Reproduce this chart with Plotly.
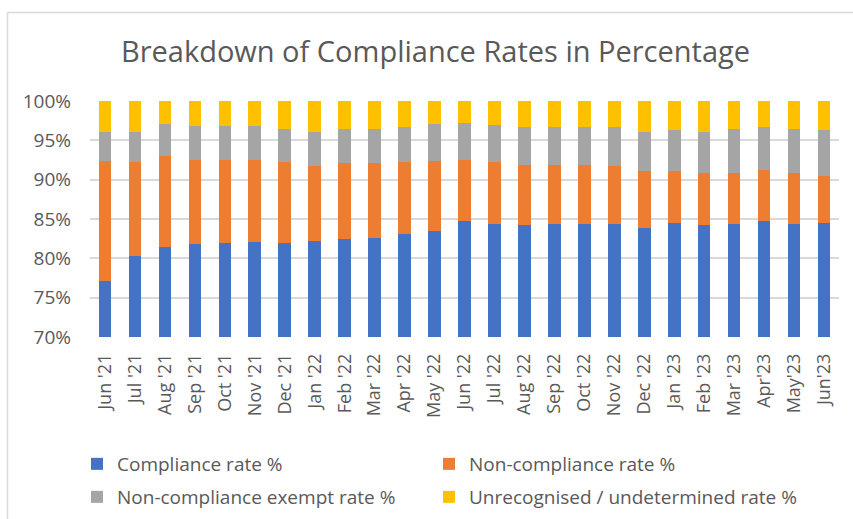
import plotly.graph_objects as go

months = ["Jun '21", "Jul '21", "Aug '21", "Sep '21", "Oct '21", "Nov '21", "Dec '21",
          "Jan '22", "Feb '22", "Mar '22", "Apr '22", "May '22", "Jun '22", "Jul '22",
          "Aug '22", "Sep '22", "Oct '22", "Nov '22", "Dec '22", "Jan '23", "Feb '23",
          "Mar '23", "Apr'23", "May'23", "Jun'23"]

compliance = [77.1, 80.3, 81.5, 81.8, 82.0, 82.1, 82.0, 82.2, 82.5, 82.6, 83.1, 83.5, 84.7,
              84.4, 84.2, 84.4, 84.4, 84.4, 83.8, 84.5, 84.2, 84.4, 84.7, 84.4, 84.5]
non_compliance = [15.3, 11.9, 11.5, 10.7, 10.5, 10.4, 10.2, 9.5, 9.6, 9.5, 9.1, 8.9, 7.8,
                  7.8, 7.7, 7.5, 7.5, 7.3, 7.3, 6.6, 6.7, 6.5, 6.5, 6.4, 6.0]
exempt = [3.7, 3.9, 4.1, 4.3, 4.3, 4.3, 4.2, 4.3, 4.3, 4.3, 4.5, 4.7, 4.7,
          4.8, 4.8, 4.8, 4.8, 5.0, 5.0, 5.2, 5.2, 5.5, 5.5, 5.6, 5.8]
unrecognised = [3.9, 3.9, 2.9, 3.2, 3.2, 3.2, 3.6, 4.0, 3.6, 3.6, 3.3, 2.9, 2.8,
                3.0, 3.3, 3.3, 3.3, 3.3, 3.9, 3.7, 3.9, 3.6, 3.3, 3.6, 3.7]

y_ticks = [70, 75, 80, 85, 90, 95, 100]
y_tick_labels = ["70%", "75%", "80%", "85%", "90%", "95%", "100%"]

series_names = ["Compliance rate %", "Non-compliance rate %",
                "Non-compliance exempt rate %", "Unrecognised / undetermined rate %"]
series_values = [compliance, non_compliance, exempt, unrecognised]
series_colors = ["#4472C4", "#ED7D31", "#A5A5A5", "#FFC000"]

FONT = "Open Sans"
TXT = "#595959"

W, H = 853, 519
L, R, T, B = 90, 14, 101, 182
PW, PH = W - L - R, H - T - B

# legend grid (2 columns x 2 rows), pixel positions of each entry
legend_ids = ["legend", "legend2", "legend3", "legend4"]
legend_pos = [(77, 464), (429, 464), (77, 497), (429, 497)]

fig = go.Figure()
for name, vals, color, lg in zip(series_names, series_values, series_colors, legend_ids):
    fig.add_trace(go.Bar(x=months, y=vals, name=name, marker_color=color,
                         marker_line_width=0, legend=lg))

legend_layout = {}
for lg, (px, py) in zip(legend_ids, legend_pos):
    legend_layout[lg] = dict(orientation="h", xref="container", yref="container",
                             x=px / W, y=1 - py / H, xanchor="left", yanchor="middle",
                             font=dict(family=FONT, size=19, color=TXT),
                             bgcolor="rgba(0,0,0,0)")

border_x = (7.5 - L) / PW
border_y = (H - B - 12.5) / PH

fig.update_layout(
    width=W, height=H,
    margin=dict(l=L, r=R, t=T, b=B),
    barmode="stack", bargap=0.58,
    paper_bgcolor="white", plot_bgcolor="white",
    font=dict(family=FONT, color=TXT),
    title=dict(text="Breakdown of Compliance Rates in Percentage",
               x=435.5 / W, xanchor="center", y=1 - 52 / H, yanchor="middle",
               font=dict(family=FONT, size=29, color=TXT)),
    showlegend=True,
    xaxis=dict(tickangle=-90, tickfont=dict(family=FONT, size=18, color=TXT),
               showgrid=False, showline=False, ticks="", ticklabelstandoff=12),
    yaxis=dict(range=[70, 100], tickvals=y_ticks, ticktext=y_tick_labels,
               tickfont=dict(family=FONT, size=19, color=TXT),
               showgrid=True, gridcolor="#D9D9D9", gridwidth=1.5,
               zeroline=False, showline=False, ticks="", ticklabelstandoff=18),
    shapes=[dict(type="line", xref="paper", yref="paper",
                 x0=border_x, x1=border_x, y0=border_y, y1=-1,
                 line=dict(color="#D9D9D9", width=1.5)),
            dict(type="line", xref="paper", yref="paper",
                 x0=border_x, x1=1.2, y0=border_y, y1=border_y,
                 line=dict(color="#D9D9D9", width=1.5))],
    **legend_layout,
)

fig.write_html("out.html", config={"displayModeBar": False},
               post_script="document.body.style.margin='0px';")
